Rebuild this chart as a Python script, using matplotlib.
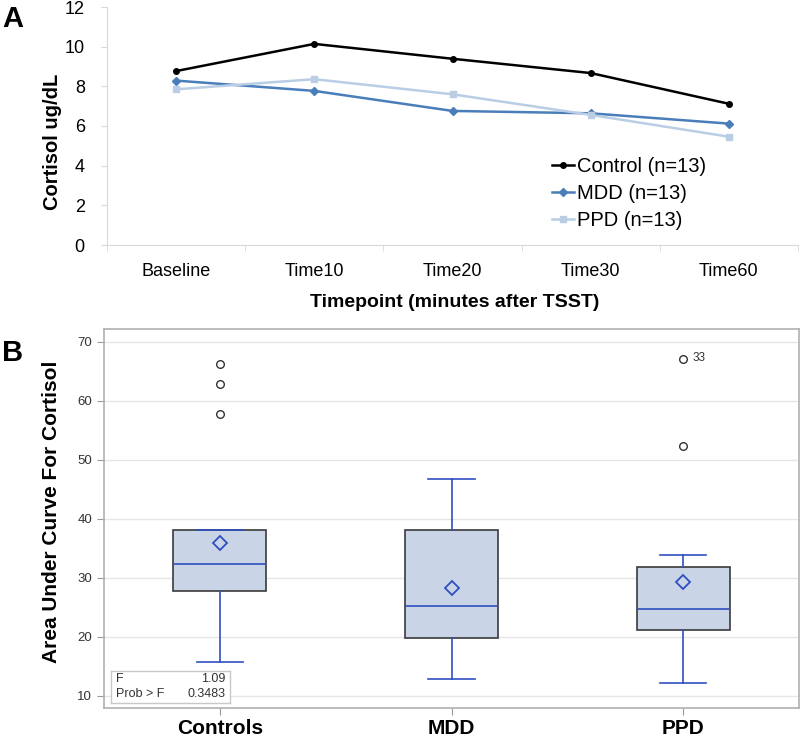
import matplotlib
matplotlib.use("Agg")
import matplotlib.pyplot as plt
import numpy as np

plt.rcParams['font.family'] = ['Liberation Sans', 'DejaVu Sans']

# ---- Panel A data ----
timepoints = ["Baseline", "Time10", "Time20", "Time30", "Time60"]
control = [8.77, 10.14, 9.39, 8.67, 7.12]
mdd = [8.29, 7.77, 6.76, 6.64, 6.12]
ppd = [7.85, 8.36, 7.60, 6.56, 5.46]
series_labels = ["Control (n=13)", "MDD (n=13)", "PPD (n=13)"]

# ---- Panel B data (box summary) ----
groups = ["Controls", "MDD", "PPD"]
q1 = [27.75, 19.8, 21.2]
med = [32.3, 25.2, 24.7]
q3 = [38.0, 38.0, 31.8]
whislo = [15.7, 12.8, 12.2]
whishi = [38.0, 46.7, 33.85]
means = [35.8, 28.3, 29.2]
outliers = [[66.2, 62.8, 57.7], [], [67.0, 52.3]]
outlier_label = "33"
f_stat = "1.09"
p_val = "0.3483"

fig = plt.figure(figsize=(8, 7.39), dpi=100)

# ---------------- Panel A ----------------
axA = fig.add_axes([107/800, 1-245/739, (798-107)/800, (245-7)/739])
x = np.arange(len(timepoints))
axA.plot(x, control, color='black', marker='o', markersize=4, lw=1.8, label=series_labels[0])
axA.plot(x, mdd, color='#4a7ebb', marker='D', markersize=4, lw=1.8, label=series_labels[1])
axA.plot(x, ppd, color='#b9cde5', marker='s', markersize=4, lw=1.8, label=series_labels[2])
axA.set_xlim(-0.5, len(timepoints)-0.5)
axA.set_ylim(0, 12)
axA.set_yticks(range(0, 13, 2))
axA.set_xticks(x)
axA.set_xticklabels(timepoints, fontsize=13)
axA.tick_params(axis='x', length=0, pad=13)
axA.set_xticks(np.arange(-0.5, len(timepoints), 1), minor=True)
axA.tick_params(axis='x', which='minor', length=4, color='#d9d9d9')
axA.tick_params(axis='y', labelsize=13, length=4, color='#d9d9d9', pad=12)
for s in ['top', 'right']:
    axA.spines[s].set_visible(False)
for s in ['left', 'bottom']:
    axA.spines[s].set_color('#d9d9d9')
leg = axA.legend(loc='upper left', bbox_to_anchor=(435/691, 1-(147-7)/238), frameon=False,
                 fontsize=14.5, handlelength=1.1, handletextpad=0.15, labelspacing=0.4,
                 borderpad=0)
fig.text(455/800, 1-303/739, "Timepoint (minutes after TSST)", ha='center', va='center',
         fontsize=14, fontweight='bold')
fig.text(52/800, 1-142/739, "Cortisol ug/dL", ha='center', va='center', rotation=90,
         fontsize=14.5, fontweight='bold')
fig.text(2/800, 1-19/739, "A", ha='left', va='center', fontsize=21, fontweight='bold')

# ---------------- Panel B ----------------
axB = fig.add_axes([104/800, 1-708/739, (799-104)/800, (708-329)/739])
stats = []
for i, g in enumerate(groups):
    stats.append(dict(label=g, q1=q1[i], med=med[i], q3=q3[i], whislo=whislo[i],
                      whishi=whishi[i], mean=means[i], fliers=outliers[i]))
blue = '#2f4fc0'
axB.bxp(stats, positions=np.arange(len(groups)), widths=0.40, patch_artist=True,
        showmeans=True, showfliers=True,
        boxprops=dict(facecolor='#c9d5e6', edgecolor='#3a3a3a', linewidth=1.2),
        medianprops=dict(color=blue, linewidth=1.2),
        whiskerprops=dict(color=blue, linewidth=1.2),
        capprops=dict(color=blue, linewidth=1.2),
        capwidths=0.2,
        meanprops=dict(marker='D', markerfacecolor='none', markeredgecolor=blue,
                       markersize=7, markeredgewidth=1.3),
        flierprops=dict(marker='o', markerfacecolor='none', markeredgecolor='#333333',
                        markersize=5.5, markeredgewidth=1.0))
axB.text(2 + 0.04, outliers[2][0] + 0.3, outlier_label, fontsize=8.5, color='#333333',
         va='center', ha='left')
axB.set_xlim(-0.5, len(groups)-0.5)
axB.set_ylim(7.9, 72.15)
axB.set_yticks(range(10, 71, 10))
axB.yaxis.grid(True, color='#e6e6e6', lw=1)
axB.set_axisbelow(True)
axB.set_xticks(np.arange(len(groups)))
axB.set_xticklabels(groups, fontsize=15, fontweight='bold')
axB.tick_params(axis='x', length=5, color='#999999', pad=3)
axB.tick_params(axis='y', labelsize=9.5, length=5, color='#999999', labelcolor='#333333')
for s in axB.spines.values():
    s.set_color('#b0b0b0')
    s.set_linewidth(1.2)
fig.text(52/800, 1-512/739, "Area Under Curve For Cortisol", ha='center', va='center',
         rotation=90, fontsize=15, fontweight='bold')
fig.text(2/800, 1-353/739, "B", ha='left', va='center', fontsize=21, fontweight='bold')

# stats inset
sb = axB.inset_axes([(111-104)/(799-104), (708-703)/(708-329), (230-111)/(799-104), (703-671)/(708-329)])
sb.set_xticks([]); sb.set_yticks([])
sb.set_facecolor('white')
for s in sb.spines.values():
    s.set_color('#c8c8c8'); s.set_linewidth(1)
sb.text(0.04, 0.74, "F", fontsize=9, va='center', ha='left', color='#333333')
sb.text(0.96, 0.74, f_stat, fontsize=9, va='center', ha='right', color='#333333')
sb.text(0.04, 0.27, "Prob > F", fontsize=9, va='center', ha='left', color='#333333')
sb.text(0.96, 0.27, p_val, fontsize=9, va='center', ha='right', color='#333333')

fig.savefig("out.png", dpi=100)
